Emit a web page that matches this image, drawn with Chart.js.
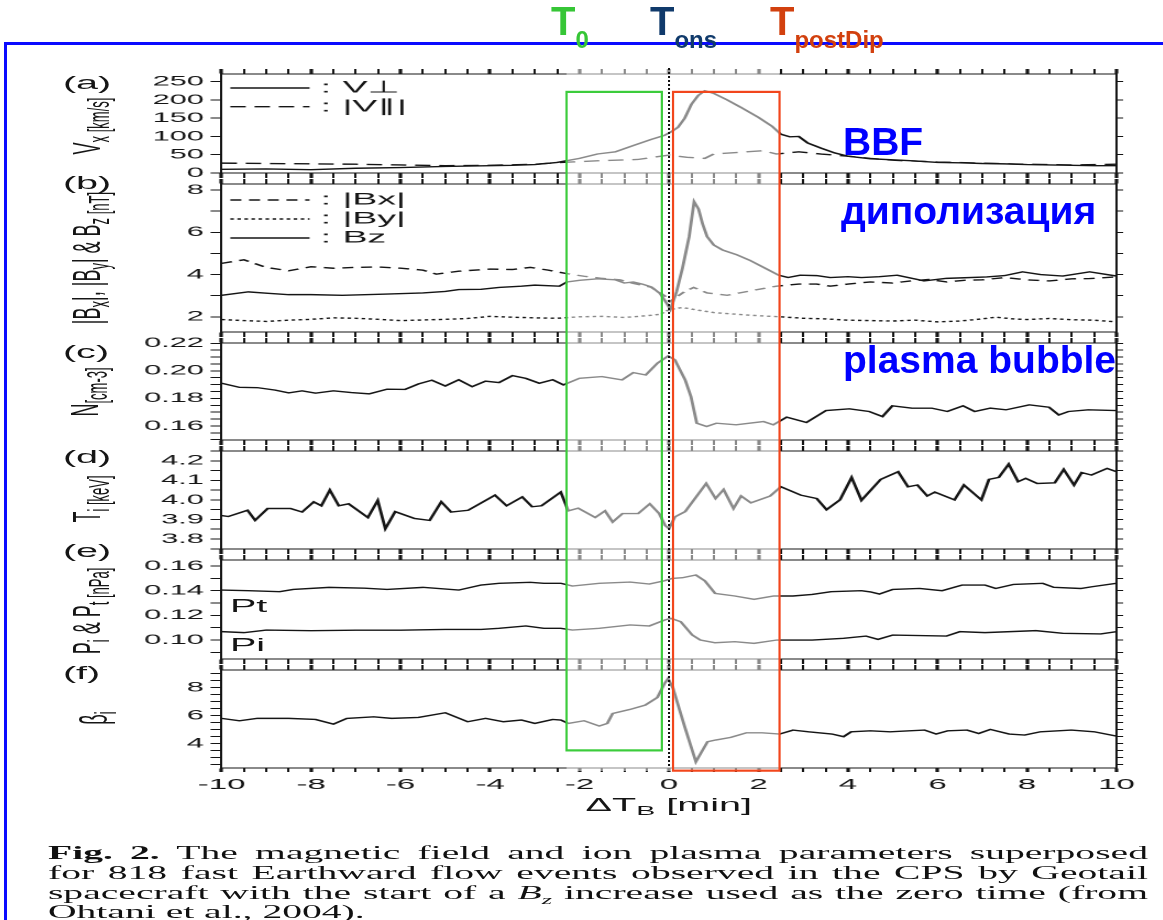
<!DOCTYPE html>
<html>
<head>
<meta charset="utf-8">
<title>Superposed flow events</title>
<script src="https://cdn.jsdelivr.net/npm/chart.js@4.4.1/dist/chart.umd.min.js"></script>
<style>
  html, body { margin: 0; padding: 0; background: #fff; }
  body { position: relative; width: 1163px; height: 920px; overflow: hidden; font-family: "Liberation Sans", Arial, sans-serif; }
  /* the figure block is drawn narrow and stretched sideways */
  #fig { position: absolute; left: 0; top: 0; width: 529px; height: 920px; transform: scaleX(2.2); transform-origin: 0 0; color: #151515; }
  #fig canvas { position: absolute; left: 0; }
  .plab { position: absolute; font-size: 18px; line-height: 1; white-space: nowrap; }
  .ytitle { position: absolute; font-size: 18px; line-height: 1; white-space: nowrap; transform: translate(-50%, -50%) rotate(-90deg); }
  .ytitle sub, .xtitle sub { font-size: 13px; vertical-align: -4px; }
  .xtitle { position: absolute; font-size: 18px; line-height: 1; white-space: nowrap; transform: translate(-50%, -50%); }
  .cap { position: absolute; left: 21.8px; width: 500px; font-family: "Liberation Serif", "Times New Roman", serif; font-size: 18px; line-height: 20px; white-space: nowrap; text-align: justify; text-align-last: justify; color: #111; }
  .cap.last { text-align: left; text-align-last: left; }
  .cap sub { font-size: 12px; }
  #marks { position: absolute; left: 0; top: 0; pointer-events: none; }
  .bar { position: absolute; background: #0a0aff; }
  .tmark { position: absolute; top: 1px; font-weight: bold; font-size: 40px; line-height: 1; white-space: nowrap; }
  .tmark span { font-size: 24px; position: relative; top: 13px; }
  .note { position: absolute; color: #0000ff; font-weight: bold; font-size: 39px; line-height: 1; white-space: nowrap; }
</style>
</head>
<body>
<div id="fig">
  <div class="plab" style="left:28.6px;top:74px">(a)</div>
  <div class="plab" style="left:28.6px;top:174px">(b)</div>
  <div class="plab" style="left:28.6px;top:343px">(c)</div>
  <div class="plab" style="left:28.6px;top:448px">(d)</div>
  <div class="plab" style="left:28.6px;top:542px">(e)</div>
  <div class="plab" style="left:28.6px;top:664px">(f)</div>

  <div class="ytitle" style="left:41px;top:126px">V<sub>x [km/s]</sub></div>
  <div class="ytitle" style="left:41px;top:258px">|B<sub>x</sub>|, |B<sub>y</sub>| &amp; B<sub>z [nT]</sub></div>
  <div class="ytitle" style="left:40px;top:392px">N<sub>[cm-3]</sub></div>
  <div class="ytitle" style="left:41px;top:499px">T<sub>i [keV]</sub></div>
  <div class="ytitle" style="left:41px;top:611px">P<sub>i</sub> &amp; P<sub>t [nPa]</sub></div>
  <div class="ytitle" style="left:44px;top:718px">β<sub>i</sub></div>

  <div class="plab" style="left:104.5px;top:597px">Pt</div>
  <div class="plab" style="left:104.5px;top:636px">Pi</div>

  <div class="xtitle" style="left:304px;top:806px">ΔT<sub>B</sub> [min]</div>

  <div class="cap" style="top:843px"><b>Fig. 2.</b> The magnetic field and ion plasma parameters superposed</div>
  <div class="cap" style="top:863px">for 818 fast Earthward flow events observed in the CPS by Geotail</div>
  <div class="cap" style="top:883px">spacecraft with the start of a <i>B<sub>z</sub></i> increase used as the zero time (from</div>
  <div class="cap last" style="top:902px">Ohtani et al., 2004).</div>
</div>

<canvas id="marks" width="1163" height="920"></canvas>

<div class="bar" style="left:5px;top:42px;width:1158px;height:3px"></div>
<div class="bar" style="left:4px;top:42px;width:3px;height:878px"></div>

<div class="tmark" style="left:551px;color:#36c636">T<span>0</span></div>
<div class="tmark" style="left:650px;color:#103a6b">T<span>ons</span></div>
<div class="tmark" style="left:770px;color:#d2400e">T<span>postDip</span></div>

<div class="note" style="left:843px;top:122px">BBF</div>
<div class="note" style="left:841px;top:191px">диполизация</div>
<div class="note" style="left:843px;top:340px">plasma bubble</div>

<script>
// (a) flow velocity, km/s
const tVperp = [-10, -9, -8, -7, -6, -5, -4.5, -4, -3.5, -3, -2.5, -2, -1.6, -1.2, -0.8, -0.4, -0.1, 0.05, 0.2, 0.35, 0.5, 0.65, 0.8, 1.0, 1.3, 1.6, 2.0, 2.3, 2.5, 2.7, 2.9, 3.1, 3.4, 3.7, 4.0, 4.5, 5.0, 5.5, 6.0, 6.5, 7.0, 7.5, 8.0, 8.5, 9.0, 9.5, 10];
const vPerp = [10, 11, 9, 13, 15, 18, 19, 20, 21, 23, 29, 40, 52, 58, 75, 92, 103, 113, 125, 150, 188, 212, 225, 218, 200, 180, 152, 128, 106, 99, 100, 82, 68, 55, 46, 39, 36, 33, 29, 28, 26, 25, 23, 22, 21, 20, 20];
const tVpar = [-10, -9, -8, -7, -6, -5, -4, -3, -2.4, -1.5, -0.7, 0.0, 0.4, 0.8, 1.0, 1.5, 2.1, 2.4, 2.9, 3.4, 4.0, 4.5, 5, 6, 7, 8, 9, 10];
const vPar = [27, 26, 25, 24, 22, 20, 21, 24, 29, 34, 37, 49, 43, 40, 52, 56, 61, 52, 58, 52, 46, 40, 35, 30, 27, 24, 22, 24];

// (b) field components, nT
const tBx = [-10, -9.5, -9, -8.5, -8, -7.5, -7, -6.5, -6, -5.5, -5.2, -4.7, -4, -3.5, -3.1, -2.7, -2.3, -1.9, -1.5, -1.1, -0.8, -0.4, -0.1, 0.02, 0.17, 0.35, 0.55, 0.85, 1.3, 1.9, 2.4, 2.9, 3.3, 3.6, 4.0, 4.5, 5.0, 5.4, 5.8, 6.2, 6.6, 7.0, 7.5, 8.0, 8.5, 9.0, 9.4, 10];
const bx = [4.53, 4.7, 4.34, 4.18, 4.37, 4.3, 4.34, 4.36, 4.3, 4.21, 4.02, 4.16, 4.26, 4.24, 4.34, 4.21, 4.05, 3.92, 3.82, 3.75, 3.58, 3.4, 3.0, 2.72, 2.94, 3.2, 3.39, 3.13, 3.02, 3.26, 3.45, 3.55, 3.55, 3.45, 3.55, 3.65, 3.6, 3.7, 3.77, 3.65, 3.73, 3.75, 3.86, 3.75, 3.7, 3.8, 3.81, 3.89];
const tBy = [-10, -9.5, -9, -8.5, -8, -7.5, -7, -6.5, -6, -5.5, -5, -4.5, -4, -3.5, -3, -2.5, -2, -1.5, -1, -0.5, -0.2, 0.02, 0.3, 0.6, 1.0, 1.5, 2.0, 2.5, 3, 3.5, 4, 4.5, 5, 5.5, 6, 6.5, 7, 7.3, 7.7, 8, 8.5, 9, 9.5, 10];
const by = [1.87, 1.82, 1.78, 1.84, 1.88, 1.95, 1.93, 1.88, 1.82, 1.85, 1.88, 1.92, 2.02, 1.98, 1.95, 1.93, 2.0, 2.02, 1.97, 2.05, 2.12, 2.35, 2.44, 2.33, 2.2, 2.12, 2.05, 2.0, 1.93, 1.9, 1.84, 1.82, 1.8, 1.84, 1.76, 1.8, 1.9, 1.98, 1.9, 1.87, 1.92, 1.86, 1.84, 1.76];
const tBz = [-10, -9.4, -9, -8.5, -8, -7.3, -6.4, -5.5, -5, -4.7, -4.2, -3.8, -3.3, -3, -2.45, -2.28, -2.0, -1.6, -1.2, -1.0, -0.8, -0.6, -0.4, -0.2, -0.05, 0.03, 0.17, 0.3, 0.45, 0.56, 0.66, 0.75, 0.85, 1.0, 1.2, 1.5, 1.8, 2.15, 2.45, 2.66, 2.93, 3.3, 3.6, 4.0, 4.3, 4.7, 5.1, 5.7, 6.2, 6.6, 7.1, 7.5, 7.9, 8.3, 8.8, 9.4, 10];
const bz = [3.02, 3.18, 3.12, 3.05, 3.05, 3.02, 3.07, 3.13, 3.2, 3.29, 3.3, 3.39, 3.45, 3.5, 3.45, 3.65, 3.73, 3.8, 3.75, 3.6, 3.65, 3.55, 3.42, 3.1, 2.63, 2.35, 3.2, 4.3, 5.8, 7.45, 7.1, 6.4, 5.8, 5.4, 5.16, 4.95, 4.68, 4.3, 3.97, 3.86, 3.97, 3.95, 3.86, 3.9, 3.86, 3.9, 3.97, 3.7, 3.82, 3.85, 3.89, 3.95, 4.13, 4.0, 3.93, 4.13, 3.93];

// (c) ion density, cm^-3
const tN = [-10, -9.6, -9.2, -8.8, -8.5, -8.2, -7.9, -7.5, -7.1, -6.7, -6.3, -5.9, -5.6, -5.3, -5.0, -4.7, -4.4, -4.1, -3.8, -3.5, -3.2, -2.9, -2.6, -2.36, -2.0, -1.5, -1.05, -0.8, -0.52, -0.26, -0.02, 0.13, 0.36, 0.49, 0.62, 0.84, 1.06, 1.5, 1.8, 2.11, 2.33, 2.63, 3.07, 3.51, 4.03, 4.47, 4.77, 4.99, 5.43, 5.87, 6.22, 6.57, 6.83, 7.18, 7.53, 8.05, 8.49, 8.71, 8.93, 9.37, 10];
const dens = [0.191, 0.188, 0.1878, 0.186, 0.184, 0.1855, 0.1838, 0.1855, 0.1842, 0.1833, 0.1867, 0.1865, 0.1905, 0.1932, 0.189, 0.1935, 0.1885, 0.1925, 0.1915, 0.1965, 0.1945, 0.191, 0.1935, 0.1898, 0.1946, 0.1958, 0.1934, 0.1987, 0.197, 0.2055, 0.2108, 0.208, 0.1934, 0.1813, 0.162, 0.1596, 0.162, 0.1608, 0.162, 0.1632, 0.1608, 0.1664, 0.1625, 0.1712, 0.1724, 0.1705, 0.1668, 0.1746, 0.1729, 0.1729, 0.1705, 0.1746, 0.1705, 0.1729, 0.1717, 0.1753, 0.1736, 0.168, 0.1705, 0.1717, 0.1712];

// (d) ion temperature, keV
const tTi = [-10, -9.85, -9.42, -9.25, -8.97, -8.46, -8.2, -7.94, -7.77, -7.58, -7.38, -7.16, -6.73, -6.51, -6.34, -6.12, -5.69, -5.35, -5.09, -4.87, -4.49, -3.89, -3.63, -3.28, -3.06, -2.85, -2.42, -2.25, -2.03, -1.65, -1.43, -1.26, -1.04, -0.69, -0.43, -0.22, -0.09, 0.0, 0.13, 0.36, 0.83, 1.04, 1.22, 1.44, 1.61, 1.83, 2.26, 2.5, 2.95, 3.3, 3.52, 3.82, 4.08, 4.3, 4.73, 5.12, 5.34, 5.55, 5.77, 5.94, 6.38, 6.59, 6.98, 7.15, 7.37, 7.59, 7.8, 7.97, 8.23, 8.62, 8.82, 9.05, 9.22, 9.44, 9.79, 10];
const ti = [3.92, 3.915, 3.947, 3.896, 3.956, 3.956, 3.938, 3.99, 3.97, 4.05, 3.97, 3.98, 3.91, 3.997, 3.853, 3.94, 3.905, 3.895, 3.99, 3.938, 3.947, 4.024, 3.97, 4.015, 3.965, 3.97, 4.04, 3.944, 3.958, 3.91, 3.944, 3.887, 3.93, 3.93, 3.98, 3.93, 3.87, 3.853, 3.913, 3.94, 4.084, 4.007, 4.053, 3.956, 4.02, 3.985, 4.02, 4.067, 4.024, 4.007, 3.95, 4.0, 4.115, 3.998, 4.105, 4.144, 4.067, 4.076, 4.02, 4.04, 4.0, 4.076, 4.0, 4.105, 4.115, 4.183, 4.093, 4.11, 4.084, 4.087, 4.156, 4.076, 4.14, 4.127, 4.161, 4.144];

// (e) total and ion pressure, nPa
const tPt = [-10, -9.4, -8.7, -8.4, -7.6, -6.8, -6.3, -5.5, -4.7, -4.2, -3.8, -3.1, -2.8, -2.42, -2.16, -1.56, -0.87, -0.44, -0.1, 0.07, 0.3, 0.6, 0.8, 1.03, 1.47, 1.9, 2.34, 2.77, 3.2, 3.62, 4.3, 4.5, 4.7, 5.0, 5.6, 6.1, 6.55, 7.06, 7.3, 7.7, 8.35, 8.6, 9.2, 9.45, 10];
const pt = [0.1405, 0.14, 0.1392, 0.141, 0.1427, 0.142, 0.141, 0.1427, 0.1405, 0.1446, 0.146, 0.1468, 0.146, 0.146, 0.1438, 0.146, 0.147, 0.1454, 0.1481, 0.15, 0.1505, 0.1527, 0.148, 0.1378, 0.1357, 0.133, 0.1357, 0.1357, 0.137, 0.1392, 0.14, 0.139, 0.1373, 0.141, 0.1418, 0.14, 0.1446, 0.1446, 0.1418, 0.1451, 0.146, 0.1427, 0.1418, 0.1432, 0.146];
const tPi = [-10, -9.5, -9, -8, -7, -6, -5, -4.2, -3.8, -3.2, -2.8, -2.42, -2.16, -1.56, -0.87, -0.44, -0.1, 0.04, 0.26, 0.52, 0.7, 1.03, 1.47, 1.9, 2.41, 3.2, 3.9, 4.4, 4.67, 5.0, 6.2, 6.5, 7.06, 8.2, 8.8, 9.65, 10];
const pi = [0.1068, 0.106, 0.1081, 0.1076, 0.108, 0.108, 0.1086, 0.1086, 0.1095, 0.1114, 0.1095, 0.1095, 0.1081, 0.1095, 0.1122, 0.1114, 0.1162, 0.1176, 0.1149, 0.104, 0.1, 0.0978, 0.0986, 0.0973, 0.1, 0.1, 0.1014, 0.1032, 0.1005, 0.104, 0.1032, 0.1068, 0.106, 0.1076, 0.1054, 0.1049, 0.1068];

// (f) ion beta
const tBeta = [-10, -9.6, -9.2, -8.5, -7.9, -7.5, -7.2, -6.6, -6.2, -5.6, -5.0, -4.5, -4.1, -3.7, -3.3, -3.0, -2.6, -2.42, -2.25, -1.9, -1.56, -1.38, -1.26, -0.87, -0.53, -0.26, -0.1, -0.02, 0.09, 0.35, 0.6, 0.86, 1.04, 1.38, 1.73, 2.08, 2.47, 2.77, 3.12, 3.64, 3.9, 4.07, 4.5, 4.94, 5.37, 5.71, 5.97, 6.23, 6.66, 6.92, 7.18, 7.6, 7.95, 8.3, 8.99, 9.5, 10];
const beta = [5.79, 5.62, 5.79, 5.79, 5.71, 5.38, 5.79, 5.9, 5.79, 5.86, 6.19, 5.55, 5.79, 5.55, 5.67, 5.43, 5.71, 5.67, 5.43, 5.62, 5.24, 5.43, 6.14, 6.43, 6.74, 7.29, 8.29, 8.64, 7.93, 5.19, 2.69, 4.12, 4.24, 4.43, 4.76, 4.76, 4.67, 4.95, 4.83, 4.67, 4.48, 4.83, 4.9, 4.83, 4.9, 4.95, 4.67, 4.9, 4.95, 4.71, 5.0, 4.67, 4.6, 4.83, 4.95, 4.83, 4.52];

// time windows marked on the figure (minutes), plus box heights in panel units
const WIN_T0 = { from: -2.29, to: -0.16, topA: 222, bottomF: 3.5 };
const WIN_POST = { from: 0.09, to: 2.47, topA: 222, bottomF: 2.05 };

const S = 2.2;          // sideways stretch of #fig
const FIG_W = 529;
const PLOT_L = 100.7;
const PLOT_R = 507.5;
const M = 14;
const M_LAST = 40;
const INK = '#151515';
const X_MIN = -10, X_MAX = 10;

// vertical layout (page px) and y ranges of the six stacked panels
const PANELS = [
  { top: 74,  bottom: 173, min: 0,      max: 271,    step: 50,    every: 50,   digits: 0 },
  { top: 184, bottom: 332, min: 1.28,   max: 8.29,   step: 1,     every: 2,    digits: 0 },
  { top: 343, bottom: 440, min: 0.1498, max: 0.2202, step: 0.005, every: 0.02, digits: 2 },
  { top: 451, bottom: 549, min: 3.749,  max: 4.25,   step: 0.05,  every: 0.1,  digits: 1 },
  { top: 560, bottom: 659, min: 0.0846, max: 0.1649, step: 0.01,  every: 0.02, digits: 2 },
  { top: 670, bottom: 768, min: 2.24,   max: 9.25,   step: 0.5,   every: 2,    digits: 0 }
];

Chart.defaults.font.family = '"Liberation Sans", Arial, sans-serif';
Chart.defaults.font.size = 14;
Chart.defaults.color = INK;

function series(label, t, v, dash) {
  return {
    label: label,
    data: t.map((x, i) => ({ x: x, y: v[i] })),
    borderColor: INK,
    borderWidth: 1.4,
    borderDash: dash || [],
    pointRadius: 0,
    fill: false,
    tension: 0
  };
}

const panelSeries = [
  [series('V⊥', tVperp, vPerp), series('|V∥|', tVpar, vPar, [7, 4])],
  [series('|Bx|', tBx, bx, [5, 3.5]), series('|By|', tBy, by, [1.6, 1.6]), series('Bz', tBz, bz)],
  [series('N', tN, dens)],
  [series('Ti', tTi, ti)],
  [series('Pt', tPt, pt), series('Pi', tPi, pi)],
  [series('βi', tBeta, beta)]
];

const keyRows = [[14, 32.7], [16, 35, 54], null, null, null, null];

// line-sample key drawn inside the top-left of a panel
const seriesKey = {
  id: 'seriesKey',
  afterDatasetsDraw(chart, args, opts) {
    if (!opts.rows) return;
    const { ctx, chartArea } = chart;
    ctx.save();
    ctx.font = '17px "Liberation Sans", Arial, sans-serif';
    ctx.fillStyle = INK;
    ctx.textBaseline = 'middle';
    chart.data.datasets.forEach((ds, i) => {
      const y = chartArea.top + opts.rows[i];
      ctx.strokeStyle = ds.borderColor;
      ctx.lineWidth = ds.borderWidth;
      ctx.setLineDash(ds.borderDash || []);
      ctx.beginPath();
      ctx.moveTo(chartArea.left + 4, y);
      ctx.lineTo(chartArea.left + 40, y);
      ctx.stroke();
      ctx.setLineDash([]);
      ctx.fillText(':', chartArea.left + 45, y);
      ctx.fillText(ds.label, chartArea.left + 55, y);
    });
    ctx.restore();
  }
};

function isMajor(v, every) {
  const r = v / every;
  return Math.abs(r - Math.round(r)) < 1e-6;
}

const fig = document.getElementById('fig');

function buildPanel(p, sets, rows, isLast) {
  const mb = isLast ? M_LAST : M;
  const h = p.bottom - p.top + M + mb;
  const cv = document.createElement('canvas');
  cv.width = FIG_W;
  cv.height = h;
  cv.style.width = FIG_W + 'px';
  cv.style.height = h + 'px';
  cv.style.top = (p.top - M) + 'px';
  fig.appendChild(cv);

  const xAxis = (pos, show) => ({
    type: 'linear',
    position: pos,
    min: X_MIN,
    max: X_MAX,
    ticks: {
      display: show,
      stepSize: 0.5,
      autoSkip: false,
      maxRotation: 0,
      padding: 4,
      font: { size: 15 },
      callback: v => (v % 2 === 0 ? String(v) : '')
    },
    grid: {
      drawOnChartArea: false,
      tickLength: isLast && pos === 'bottom' ? 4 : 5,
      color: INK,
      tickWidth: c => (c.tick && c.tick.value % 2 === 0 ? 1.6 : 1)
    },
    border: { color: INK, width: 1 },
    afterFit: s => {
      s.height = pos === 'top' ? M : mb;
      s.paddingLeft = 0;
      s.paddingRight = 0;
    }
  });

  const yAxis = (pos, show) => ({
    type: 'linear',
    position: pos,
    min: p.min,
    max: p.max,
    ticks: {
      display: show,
      stepSize: p.step,
      includeBounds: false,
      autoSkip: false,
      padding: 3,
      callback: v => (isMajor(v, p.every) ? v.toFixed(p.digits) : '')
    },
    grid: { drawOnChartArea: false, tickLength: pos === 'left' ? 5 : 3, color: INK },
    border: { color: INK, width: 1 },
    afterFit: s => {
      s.width = pos === 'left' ? PLOT_L : FIG_W - PLOT_R;
      s.paddingTop = 0;
      s.paddingBottom = 0;
    }
  });

  return new Chart(cv, {
    type: 'line',
    data: { datasets: sets },
    options: {
      responsive: false,
      animation: false,
      devicePixelRatio: 2,
      events: [],
      layout: { padding: 0 },
      plugins: {
        legend: { display: false },
        tooltip: { enabled: false },
        seriesKey: { rows: rows }
      },
      scales: {
        x: xAxis('bottom', isLast),
        xTop: xAxis('top', false),
        y: yAxis('left', true),
        yRight: yAxis('right', false)
      }
    },
    plugins: [seriesKey]
  });
}

const charts = PANELS.map((p, i) => buildPanel(p, panelSeries[i], keyRows[i], i === PANELS.length - 1));

// faded window, marker boxes and the zero-time line across all panels
function drawMarks() {
  const ctx = document.getElementById('marks').getContext('2d');
  const xs = charts[0].scales.x;
  const px = v => xs.getPixelForValue(v) * S;
  const first = PANELS[0], last = PANELS[PANELS.length - 1];
  const yA = v => first.top - M + charts[0].scales.y.getPixelForValue(v);
  const yF = v => last.top - M + charts[charts.length - 1].scales.y.getPixelForValue(v);

  ctx.fillStyle = 'rgba(255,255,255,0.5)';
  ctx.fillRect(px(WIN_T0.from), first.top - 8, px(WIN_POST.to) - px(WIN_T0.from), last.bottom - first.top + 11);

  ctx.strokeStyle = '#111';
  ctx.lineWidth = 2;
  ctx.setLineDash([2, 2]);
  ctx.beginPath();
  ctx.moveTo(px(0), first.top - 6);
  ctx.lineTo(px(0), last.bottom);
  ctx.stroke();
  ctx.setLineDash([]);

  ctx.lineWidth = 2.2;
  ctx.strokeStyle = '#3ccc3c';
  ctx.strokeRect(px(WIN_T0.from), yA(WIN_T0.topA), px(WIN_T0.to) - px(WIN_T0.from), yF(WIN_T0.bottomF) - yA(WIN_T0.topA));
  ctx.strokeStyle = '#f2461c';
  ctx.strokeRect(px(WIN_POST.from), yA(WIN_POST.topA), px(WIN_POST.to) - px(WIN_POST.from), yF(WIN_POST.bottomF) - yA(WIN_POST.topA));
}

drawMarks();
</script>
</body>
</html>
